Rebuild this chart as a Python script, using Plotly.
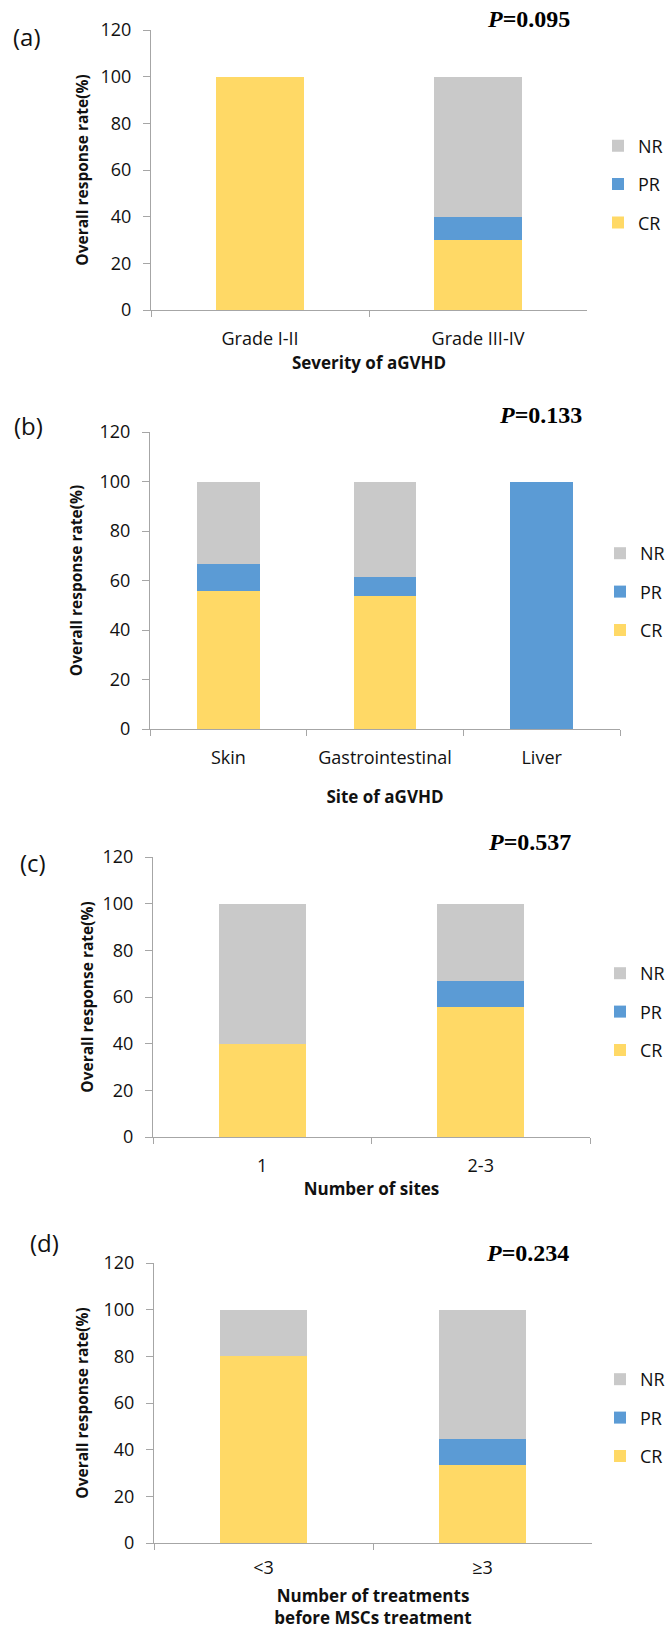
import plotly.graph_objects as go

# ---- data ----
cats_a = ["Grade I-II", "Grade III-IV"]
cr_a = [100, 30]
pr_a = [0, 10]
nr_a = [0, 60]

cats_b = ["Skin", "Gastrointestinal", "Liver"]
cr_b = [55.6, 53.8, 0]
pr_b = [11.1, 7.7, 100]
nr_b = [33.3, 38.5, 0]

cats_c = ["1", "2-3"]
cr_c = [40, 55.6]
pr_c = [0, 11.1]
nr_c = [60, 33.3]

cats_d = ["<3", "≥3"]
cr_d = [80, 33.3]
pr_d = [0, 11.1]
nr_d = [20, 55.6]

xtitles = ["Severity of aGVHD", "Site of aGVHD", "Number of sites",
           "Number of treatments<br>before MSCs treatment"]
pvalues = ["0.095", "0.133", "0.537", "0.234"]
tags = ["(a)", "(b)", "(c)", "(d)"]
series_names = ["CR", "PR", "NR"]
yticks = [0, 20, 40, 60, 80, 100, 120]
ytitle = "Overall response rate(%)"

# ---- styling / layout ----
W, H = 666, 1635
colors = {"CR": "#FFD966", "PR": "#5B9BD5", "NR": "#C9C9C9"}
legend_rank = {"NR": 1, "PR": 2, "CR": 3}
axis_color = "#A6A6A6"
FONT = "Open Sans"

# panel boxes in pixels: left, right, top, bottom
boxes = [(151, 587, 30, 310), (150, 620, 432, 729), (153, 590, 857, 1137), (154, 592, 1263, 1543)]
legend_mid = [184.5, 592, 1012, 1418]
legend_x = [598, 600, 600, 600]
tag_pos = [(11, 37), (12, 425), (18, 862), (28, 1242)]
p_pos = [(528, 19), (540, 415), (529, 842), (527, 1253)]
xtick_standoff = [12, 12, 12, 8]
xtitle_standoff = [8, 23, 7, 12]
ytitle_standoff = [8, 13, 5, 11]

panels = [
    (cats_a, cr_a, pr_a, nr_a),
    (cats_b, cr_b, pr_b, nr_b),
    (cats_c, cr_c, pr_c, nr_c),
    (cats_d, cr_d, pr_d, nr_d),
]

fig = go.Figure()
annotations = []
layout_axes = {}

for i, (cats, cr, pr, nr) in enumerate(panels):
    n = i + 1
    xa = "x" if n == 1 else f"x{n}"
    ya = "y" if n == 1 else f"y{n}"
    leg = "legend" if n == 1 else f"legend{n}"
    for name, vals in zip(series_names, [cr, pr, nr]):
        fig.add_trace(go.Bar(
            x=cats, y=vals, name=name, xaxis=xa, yaxis=ya,
            marker=dict(color=colors[name], line=dict(width=0)),
            legend=leg, legendgroup=f"{n}_{name}", legendrank=legend_rank[name],
            showlegend=True,
        ))
    l, r, t, b = boxes[i]
    xkey = "xaxis" if n == 1 else f"xaxis{n}"
    ykey = "yaxis" if n == 1 else f"yaxis{n}"
    layout_axes[xkey] = dict(
        domain=[l / W, r / W], anchor=ya, type="category",
        range=[-0.5, len(cats) - 0.5],
        showline=True, linecolor=axis_color, linewidth=1,
        ticks="outside", tickson="boundaries", ticklen=6, tickcolor=axis_color,
        showgrid=False, zeroline=False,
        tickfont=dict(family=FONT, size=18, color="#111111"),
        ticklabelstandoff=xtick_standoff[i],
        title=dict(text=xtitles[i], standoff=xtitle_standoff[i],
                   font=dict(family=FONT, size=17, color="#111111", weight="bold")),
        fixedrange=True,
    )
    layout_axes[ykey] = dict(
        domain=[(H - b) / H, (H - t) / H], anchor=xa,
        range=[0, 120], tickvals=yticks,
        showline=True, linecolor=axis_color, linewidth=1,
        ticks="outside", ticklen=7, tickcolor=axis_color,
        showgrid=False, zeroline=False,
        tickfont=dict(family=FONT, size=18, color="#111111"),
        ticklabelstandoff=8,
        title=dict(text=ytitle, standoff=ytitle_standoff[i],
                   font=dict(family=FONT, size=15.5, color="#111111", weight="bold")),
        fixedrange=True,
    )
    layout_axes[leg] = dict(
        x=legend_x[i] / W, xanchor="left",
        y=(H - legend_mid[i]) / H, yanchor="middle",
        traceorder="grouped", tracegroupgap=12,
        font=dict(family=FONT, size=18, color="#111111"),
        bgcolor="rgba(0,0,0,0)", borderwidth=0, itemwidth=30,
    )
    tx, ty = tag_pos[i]
    annotations.append(dict(
        text=tags[i], x=tx / W, y=(H - ty) / H, xref="paper", yref="paper",
        xanchor="left", yanchor="middle", showarrow=False,
        font=dict(family=FONT, size=24, color="#111111"),
    ))
    px, py = p_pos[i]
    annotations.append(dict(
        text=f"<i>P</i>={pvalues[i]}", x=px / W, y=(H - py) / H,
        xref="paper", yref="paper", xanchor="center", yanchor="middle",
        showarrow=False,
        font=dict(family="Liberation Serif", size=24, color="#000000", weight="bold"),
    ))

fig.update_layout(
    width=W, height=H, margin=dict(l=0, r=0, t=0, b=0, autoexpand=False),
    paper_bgcolor="white", plot_bgcolor="white",
    barmode="stack", bargap=0.6,
    annotations=annotations,
    **layout_axes,
)

fig.write_html("out.html")
